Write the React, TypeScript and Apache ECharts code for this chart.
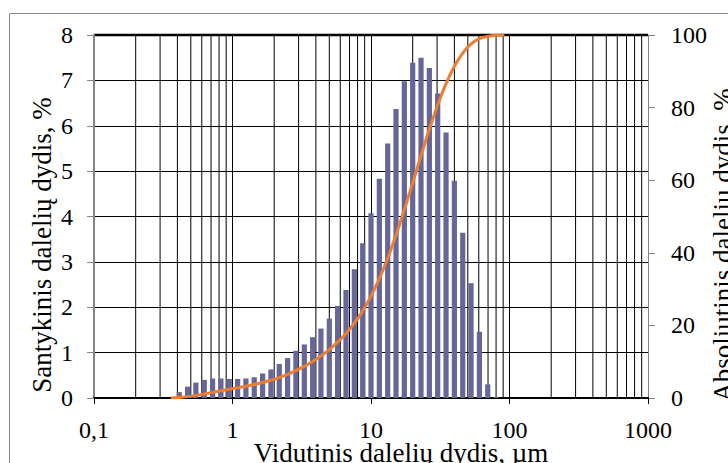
import React, { useEffect, useRef } from "react";
import * as echarts from "echarts";

// Particle size classes (µm) and relative share (%)
const sizes = [
  0.359, 0.4125, 0.474, 0.544, 0.625, 0.718, 0.825, 0.948, 1.089, 1.25, 1.436,
  1.65, 1.895, 2.176, 2.5, 2.87, 3.3, 3.79, 4.35, 5.0, 5.74, 6.6, 7.58, 8.71,
  10.0, 11.49, 13.2, 15.16, 17.41, 20.0, 22.97, 26.39, 30.31, 34.82, 40.0,
  45.95, 52.78, 60.63, 69.64, 80.0, 91.9,
];
const relative = [
  0, 0.13, 0.25, 0.34, 0.4, 0.43, 0.43, 0.42, 0.42, 0.43, 0.46, 0.54, 0.63,
  0.75, 0.88, 1.04, 1.18, 1.34, 1.53, 1.75, 2.03, 2.38, 2.84, 3.41, 4.07, 4.83,
  5.61, 6.37, 6.98, 7.39, 7.5, 7.27, 6.71, 5.85, 4.79, 3.64, 2.53, 1.46, 0.3,
  0.02, 0,
];
const cumulative = [
  0, 0.13, 0.38, 0.72, 1.12, 1.55, 1.98, 2.4, 2.82, 3.25, 3.71, 4.25, 4.88,
  5.63, 6.51, 7.55, 8.73, 10.07, 11.6, 13.35, 15.38, 17.76, 20.6, 24.01, 28.08,
  32.91, 38.52, 44.89, 51.87, 59.26, 66.76, 74.03, 80.74, 86.59, 91.38, 95.02,
  97.55, 99.0, 99.6, 99.9, 100,
];
// Minor (2..9) vertical grid positions of the log axis
const minorGridX = [
  0.2, 0.3, 0.4, 0.5, 0.6, 0.7, 0.8, 0.9, 2, 3, 4, 5, 6, 7, 8, 9, 20, 30, 40,
  50, 60, 70, 80, 90, 200, 300, 400, 500, 600, 700, 800, 900,
];

const xTitle = "Vidutinis dalelių dydis, µm";
const yLeftTitle = "Santykinis dalelių dydis, %";
const yRightTitle = "Absoliutinis dalelių dydis, %";

const FONT = "Liberation Serif";

export default function App() {
  const ref = useRef<HTMLDivElement>(null);
  useEffect(() => {
    if (!ref.current) return;
    const chart = echarts.init(ref.current, undefined, { renderer: "svg" });
    const barData = sizes.map((s, i) => [s, relative[i]]);
    const lineData = sizes.map((s, i) => [s, cumulative[i]]);
    chart.setOption({
      animation: false,
      backgroundColor: "#ffffff",
      textStyle: { fontFamily: FONT },
      grid: { left: 94, right: 80, top: 35, bottom: 65, containLabel: false },
      xAxis: {
        type: "log",
        logBase: 10,
        min: 0.1,
        max: 1000,
        axisLine: { show: true, onZero: false, lineStyle: { color: "#000", width: 2 } },
        axisTick: { show: true, inside: false, length: 6, lineStyle: { color: "#000", width: 1 } },
        axisLabel: {
          margin: 23,
          fontSize: 24,
          lineHeight: 18,
          color: "#000",
          fontFamily: FONT,
          formatter: (v: number) => String(Number(v.toPrecision(6))).replace(".", ","),
        },
        splitLine: { show: true, lineStyle: { color: "#000", width: 1 } },
      },
      yAxis: [
        {
          type: "value",
          min: 0,
          max: 8,
          interval: 1,
          axisLine: { show: true, lineStyle: { color: "#868686", width: 2 } },
          axisTick: { show: true, length: 7, lineStyle: { color: "#868686", width: 1 } },
          axisLabel: { margin: 21, fontSize: 24, color: "#000", fontFamily: FONT },
          splitLine: { show: true, lineStyle: { color: "#000", width: 1 } },
        },
        {
          type: "value",
          min: 0,
          max: 100,
          interval: 20,
          position: "right",
          axisLine: { show: true, lineStyle: { color: "#868686", width: 1 } },
          axisTick: { show: true, length: 7, lineStyle: { color: "#868686", width: 1 } },
          axisLabel: { margin: 23, fontSize: 24, color: "#000", fontFamily: FONT },
          splitLine: { show: false },
        },
      ],
      graphic: [
        {
          type: "rect",
          shape: { x: 9.5, y: 13.5, width: 900, height: 600 },
          style: { fill: "none", stroke: "#8c8c8c", lineWidth: 1 },
          silent: true,
          z: -10,
        },
        {
          type: "line",
          shape: { x1: 94, y1: 35, x2: 648, y2: 35 },
          style: { stroke: "#000", lineWidth: 2.5 },
          silent: true,
        },
        {
          type: "text",
          x: 401,
          y: 453,
          style: {
            text: xTitle,
            fontSize: 27,
            lineHeight: 22,
            fontFamily: FONT,
            fill: "#000",
            align: "center",
            verticalAlign: "middle",
          },
        },
        {
          type: "text",
          x: 42,
          y: 245,
          rotation: Math.PI / 2,
          style: {
            text: yLeftTitle,
            fontSize: 27,
            fontFamily: FONT,
            fill: "#000",
            align: "center",
            verticalAlign: "middle",
          },
        },
        {
          type: "text",
          x: 723,
          y: 245,
          rotation: Math.PI / 2,
          style: {
            text: yRightTitle,
            fontSize: 27,
            fontFamily: FONT,
            fill: "#000",
            align: "center",
            verticalAlign: "middle",
          },
        },
      ],
      series: [
        {
          type: "custom",
          name: "minorGrid",
          silent: true,
          z: 1,
          data: minorGridX.map((v) => [v]),
          encode: { x: 0 },
          renderItem: (params: any, api: any) => {
            const v = api.value(0);
            const a = api.coord([v, 0]);
            const b = api.coord([v, 8]);
            return {
              type: "line",
              shape: { x1: a[0], y1: a[1], x2: b[0], y2: b[1] },
              style: { stroke: "#000", lineWidth: 1 },
            };
          },
        },
        {
          type: "custom",
          name: "Santykinis",
          z: 3,
          data: barData,
          encode: { x: 0, y: 1 },
          renderItem: (params: any, api: any) => {
            const v = api.value(0);
            const h = api.value(1);
            const top = api.coord([v, h]);
            const base = api.coord([v, 0]);
            return {
              type: "rect",
              shape: { x: top[0] - 2.6, y: top[1], width: 5.2, height: base[1] - top[1] },
              style: { fill: "#666699" },
            };
          },
        },
        {
          type: "line",
          name: "Absoliutinis",
          yAxisIndex: 1,
          z: 4,
          data: lineData,
          smooth: 0.4,
          showSymbol: false,
          symbol: "none",
          lineStyle: { color: "#ed7d31", width: 3 },
        },
      ],
    });
    return () => chart.dispose();
  }, []);
  return (
    <div
      ref={ref}
      style={{ position: "absolute", left: 0, top: 0, width: 728, height: 463 }}
    />
  );
}
